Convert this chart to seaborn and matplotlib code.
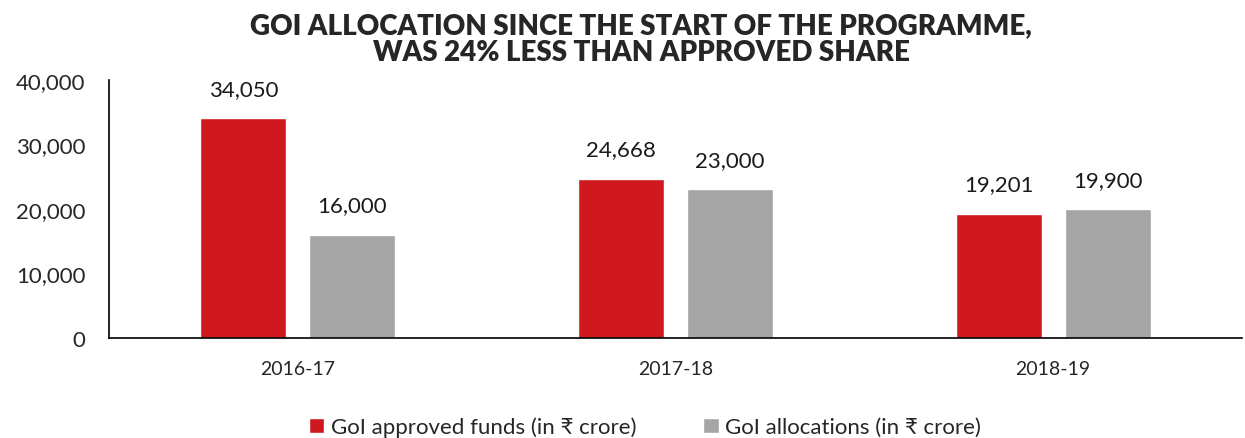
import matplotlib
matplotlib.use("Agg")
import matplotlib.pyplot as plt
import pandas as pd
import seaborn as sns

years = ["2016-17", "2017-18", "2018-19"]
approved = [34050, 24668, 19201]
allocated = [16000, 23000, 19900]
series_names = ["GoI approved funds (in ₹ crore)", "GoI allocations (in ₹ crore)"]
colors = ["#D0191F", "#A5A5A5"]

sns.set_theme(style="white")
plt.rcParams["font.family"] = ["Lato", "Noto Sans", "DejaVu Sans"]

df = pd.DataFrame({
    "year": years * 2,
    "value": approved + allocated,
    "series": [series_names[0]] * 3 + [series_names[1]] * 3,
})

fig = plt.figure(figsize=(12.45, 4.39), dpi=100)
ax = fig.add_axes([0.0876, 0.228, 0.91, 0.588])

sns.barplot(data=df, x="year", y="value", hue="series", palette=colors,
            width=0.577, gap=0.21, ax=ax, saturation=1, errorbar=None)

for cont in ax.containers:
    ax.bar_label(cont, labels=[f"{v:,.0f}" for v in cont.datavalues],
                 padding=14, fontsize=16, color="#1a1a1a")

ax.set_ylim(0, 40000)
ax.set_yticks(range(0, 40001, 10000))
ax.set_yticklabels([f"{t:,}" for t in range(0, 40001, 10000)], fontsize=16)
ax.tick_params(axis="x", labelsize=14, pad=16, length=0)
ax.tick_params(axis="y", length=0, pad=17)
ax.set_xlabel("")
ax.set_ylabel("")
sns.despine(ax=ax, top=True, right=True)
for s in ("left", "bottom"):
    ax.spines[s].set_color("black")
    ax.spines[s].set_linewidth(1.2)

ax.legend(loc="center", bbox_to_anchor=(0.473, -0.345), ncol=2, frameon=False,
          fontsize=16, handlelength=0.7, handleheight=0.7, handletextpad=0.3,
          columnspacing=3.0, borderpad=0)

fig.suptitle("GOI ALLOCATION SINCE THE START OF THE PROGRAMME,\nWAS 24% LESS THAN APPROVED SHARE",
             x=0.515, y=0.97, fontsize=20, fontweight="heavy", linespacing=1.05)

fig.savefig("out.png", dpi=100)
